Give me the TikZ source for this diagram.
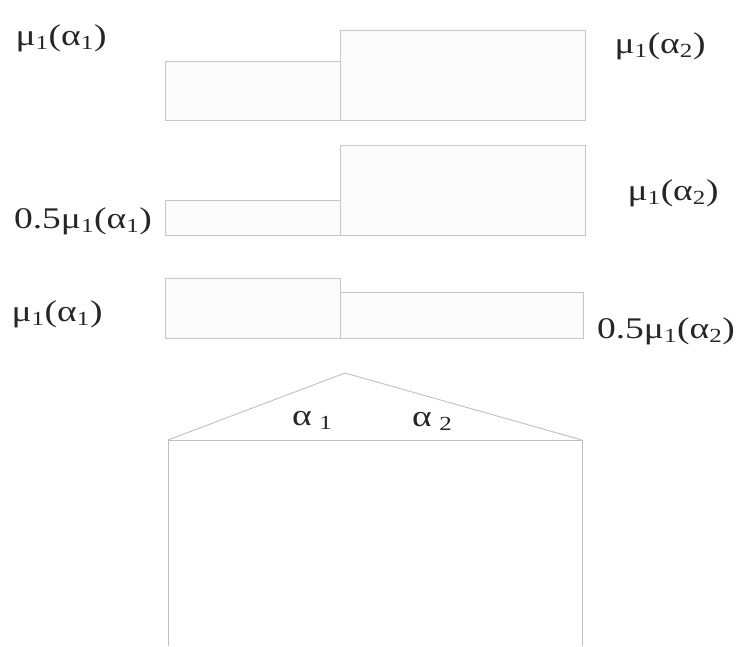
\documentclass[tikz,border=0pt]{standalone}
\usepackage{fontspec}
\usepackage{graphicx}
\setmainfont{Liberation Serif}
\begin{document}
\begin{tikzpicture}[x=1pt,y=-1pt,
  bar/.style={draw=gray!45,line width=0.9pt,fill=gray!3},
  wall/.style={draw=gray!50,line width=0.9pt},
  lbl/.style={font=\fontsize{30}{34}\selectfont,inner sep=0pt,text=black!85}]
\useasboundingbox (0,0) rectangle (738,646);
\newcommand{\mua}[1]{μ\textsubscript{\fontsize{20}{22}\selectfont 1}(α\textsubscript{\fontsize{20}{22}\selectfont #1})}
\newcommand{\wid}[1]{\scalebox{1.25}[1]{#1}}
% chart 1
\draw[bar] (165,61) rectangle (340,120);
\draw[bar] (340,30) rectangle (585,120);
\node[lbl] (l1) at (61,38) {\wid{\mua{1}}};
\node[lbl] (r1) at (660,46) {\wid{\mua{2}}};
% chart 2
\draw[bar] (165,200) rectangle (340,235);
\draw[bar] (340,145) rectangle (585,235);
\node[lbl] (l2) at (83,221) {\wid{0.5\mua{1}}};
\node[lbl] (r2) at (673,193) {\wid{\mua{2}}};
% chart 3
\draw[bar] (165,278) rectangle (340,338);
\draw[bar] (340,292) rectangle (583,338);
\node[lbl] (l3) at (57,314) {\wid{\mua{1}}};
\node[lbl] (r3) at (666,331) {\wid{0.5\mua{2}}};
% building
\coordinate (bl) at (168,646);
\coordinate (tl) at (168,440);
\coordinate (pk) at (345,373);
\coordinate (tr) at (582,440);
\coordinate (br) at (582,646);
\draw[wall] (bl) -- (tl) -- (tr) -- (br);
\draw[wall] (tl) -- (pk) -- (tr);
\node[lbl] (a1) at (312,420) {\wid{α\hspace{6pt}\raisebox{-0.3ex}{\fontsize{20}{22}\selectfont 1}}};
\node[lbl] (a2) at (432,421) {\wid{α\hspace{6pt}\raisebox{-0.3ex}{\fontsize{20}{22}\selectfont 2}}};
\end{tikzpicture}
\end{document}
